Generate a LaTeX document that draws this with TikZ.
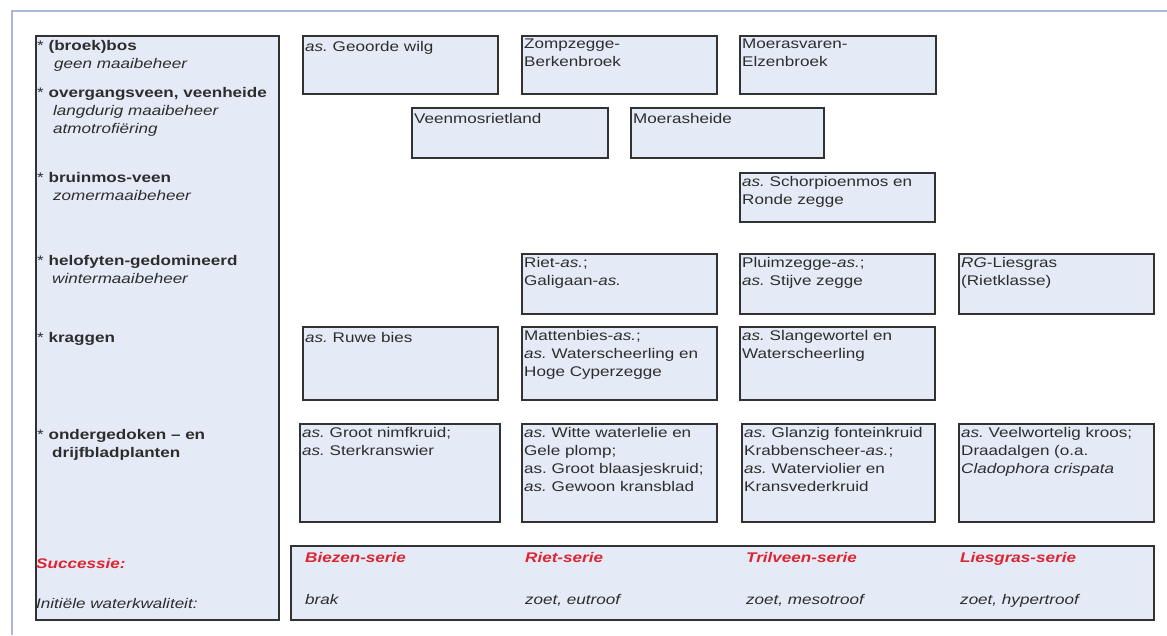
\documentclass[tikz,border=0pt]{standalone}
\usepackage{fontspec}
\setmainfont[FakeStretch=1.22]{Liberation Sans}
\frenchspacing
\usetikzlibrary{shadows}
\definecolor{vakblauw}{RGB}{229,235,246}
\definecolor{rand}{RGB}{50,50,50}
\definecolor{kader}{RGB}{172,182,216}
\definecolor{serierood}{RGB}{222,36,48}
\definecolor{inkt}{RGB}{45,45,45}
\tikzset{vak/.style={rectangle,draw=rand,fill=vakblauw,line width=1.6pt,anchor=north west,inner sep=0pt,
  drop shadow={shadow xshift=1.2pt,shadow yshift=-1.2pt,opacity=0.3}},
tekst/.style={anchor=north west,inner xsep=3pt,inner ysep=4pt,align=left,text=inkt,
  font=\fontsize{14}{18}\selectfont,execute at begin node=\strut},
regel/.style={anchor=base west,inner sep=0pt,text=inkt,font=\fontsize{14}{18}\selectfont},
serie/.style={regel,text=serierood,font=\fontsize{14}{18}\selectfont\bfseries\itshape}}

\begin{document}
\begin{tikzpicture}[x=1pt,y=-1pt]
\useasboundingbox (0,0) rectangle (1167,635);
\draw[kader,line width=2pt] (12,635)--(12,11)--(1167,11);

\node[vak,minimum width=243pt,minimum height=584pt] (beheer) at (35,35) {};
\node[regel] (bos) at (37,50) {* \textbf{(broek)bos}};
\node[regel] (bos-b) at (54,68) {\textit{geen maaibeheer}};
\node[regel] (overgang) at (37,97) {* \textbf{overgangsveen, veenheide}};
\node[regel] (overgang-b) at (53,115) {\textit{langdurig maaibeheer}};
\node[regel] (overgang-c) at (53,133) {\textit{atmotrofiëring}};
\node[regel] (bruinmos) at (37,182) {* \textbf{bruinmos-veen}};
\node[regel] (bruinmos-b) at (53,200) {\textit{zomermaaibeheer}};
\node[regel] (helofyt) at (37,265) {* \textbf{helofyten-gedomineerd}};
\node[regel] (helofyt-b) at (52,283) {\textit{wintermaaibeheer}};
\node[regel] (kraggen) at (37,342) {* \textbf{kraggen}};
\node[regel] (onder) at (37,439) {* \textbf{ondergedoken -- en}};
\node[regel] (onder-b) at (52,457) {\textbf{drijfbladplanten}};
\node[serie] (successie) at (36,568) {Successie:};
\node[regel] (kwaliteit) at (36,608) {\textit{Initiële waterkwaliteit:}};

\node[vak,minimum width=195pt,minimum height=58pt] (geoorde) at (302,35) {};
\node[tekst] (geoorde-t) at (geoorde.north west) {\textit{as.} Geoorde wilg};
\node[vak,minimum width=195pt,minimum height=58pt] (zompzegge) at (521,35) {};
\node[tekst] (zompzegge-t) at (zompzegge.north west) {Zompzegge-\\Berkenbroek};
\node[vak,minimum width=196pt,minimum height=58pt] (moerasvaren) at (739,35) {};
\node[tekst] (moerasvaren-t) at (moerasvaren.north west) {Moerasvaren-\\Elzenbroek};

\node[vak,minimum width=196pt,minimum height=50pt] (veenmos) at (411,107) {};
\node[tekst] (veenmos-t) at (veenmos.north west) {Veenmosrietland};
\node[vak,minimum width=193pt,minimum height=50pt] (moerasheide) at (630,107) {};
\node[tekst] (moerasheide-t) at (moerasheide.north west) {Moerasheide};

\node[vak,minimum width=195pt,minimum height=49pt] (schorpioen) at (739,172) {};
\node[tekst] (schorpioen-t) at (schorpioen.north west) {\textit{as.} Schorpioenmos en\\Ronde zegge};

\node[vak,minimum width=195pt,minimum height=60pt] (riet) at (521,253) {};
\node[tekst] (riet-t) at (riet.north west) {Riet-\textit{as.};\\Galigaan-\textit{as.}};
\node[vak,minimum width=195pt,minimum height=60pt] (pluim) at (739,253) {};
\node[tekst] (pluim-t) at (pluim.north west) {Pluimzegge-\textit{as.};\\\textit{as.} Stijve zegge};
\node[vak,minimum width=195pt,minimum height=60pt] (liesgras) at (958,253) {};
\node[tekst] (liesgras-t) at (liesgras.north west) {\textit{RG}-Liesgras\\(Rietklasse)};

\node[vak,minimum width=195pt,minimum height=73pt] (ruwebies) at (302,326) {};
\node[tekst] (ruwebies-t) at (ruwebies.north west) {\textit{as.} Ruwe bies};
\node[vak,minimum width=195pt,minimum height=73pt] (mattenbies) at (521,326) {};
\node[tekst] (mattenbies-t) at (mattenbies.north west) {Mattenbies-\textit{as.};\\\textit{as.} Waterscheerling en\\Hoge Cyperzegge};
\node[vak,minimum width=195pt,minimum height=73pt] (slangewortel) at (739,326) {};
\node[tekst] (slangewortel-t) at (slangewortel.north west) {\textit{as.} Slangewortel en\\Waterscheerling};

\node[vak,minimum width=200pt,minimum height=98pt] (nimfkruid) at (299,423) {};
\node[tekst] (nimfkruid-t) at (nimfkruid.north west) {\textit{as.} Groot nimfkruid;\\\textit{as.} Sterkranswier};
\node[vak,minimum width=195pt,minimum height=98pt] (waterlelie) at (521,423) {};
\node[tekst] (waterlelie-t) at (waterlelie.north west) {\textit{as.} Witte waterlelie en\\Gele plomp;\\as. Groot blaasjeskruid;\\\textit{as.} Gewoon kransblad};
\node[vak,minimum width=193pt,minimum height=98pt] (fonteinkruid) at (741,423) {};
\node[tekst] (fonteinkruid-t) at (fonteinkruid.north west) {\textit{as.} Glanzig fonteinkruid\\Krabbenscheer-\textit{as.};\\\textit{as.} Waterviolier en\\Kransvederkruid};
\node[vak,minimum width=195pt,minimum height=98pt] (kroos) at (958,423) {};
\node[tekst] (kroos-t) at (kroos.north west) {\textit{as.} Veelwortelig kroos;\\Draadalgen (o.a.\\\textit{Cladophora crispata}};

\node[vak,minimum width=863pt,minimum height=74pt] (reeks) at (290,545) {};
\node[serie] (biezen) at (305,562) {Biezen-serie};
\node[serie] (rietserie) at (525,562) {Riet-serie};
\node[serie] (trilveen) at (746,562) {Trilveen-serie};
\node[serie] (liesserie) at (960,562) {Liesgras-serie};
\node[regel] (brak) at (305,604) {\textit{brak}};
\node[regel] (eutroof) at (525,604) {\textit{zoet, eutroof}};
\node[regel] (mesotroof) at (746,604) {\textit{zoet, mesotroof}};
\node[regel] (hypertroof) at (960,604) {\textit{zoet, hypertroof}};
\end{tikzpicture}
\end{document}
